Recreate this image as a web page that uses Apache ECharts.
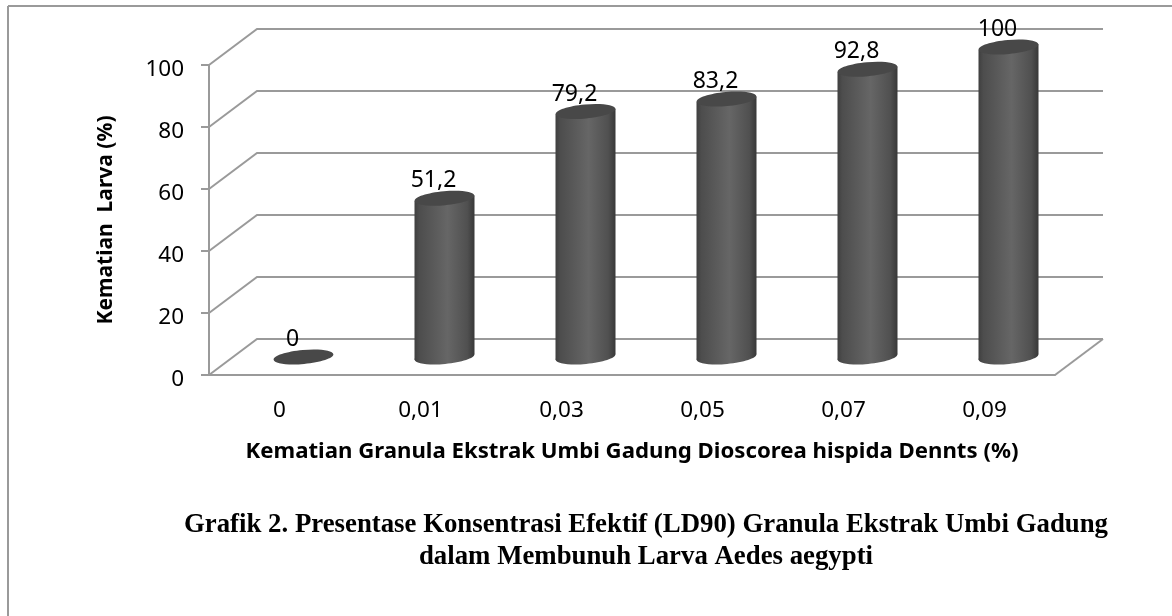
<!DOCTYPE html>
<html>
<head>
<meta charset="utf-8">
<script src="https://cdn.jsdelivr.net/npm/echarts@6/dist/echarts.min.js"></script>
<style>
html, body { margin: 0; padding: 0; background: #fff; }
#main { width: 1172px; height: 616px; }
</style>
</head>
<body>
<div id="main"></div>
<script>
var categories = ['0', '0,01', '0,03', '0,05', '0,07', '0,09'];
var kematian = [0, 51.2, 79.2, 83.2, 92.8, 100];
var yTicks = [0, 20, 40, 60, 80, 100];

var xName = 'Kematian Granula Ekstrak Umbi Gadung Dioscorea hispida Dennts (%)';
var yName = 'Kematian  Larva (%)';
var caption = 'Grafik 2. Presentase Konsentrasi Efektif (LD90) Granula Ekstrak Umbi Gadung\ndalam Membunuh Larva Aedes aegypti';

// kedalaman "3D" dinding belakang
var depthX = 48, depthY = 36;
var lineColor = '#9a9a9a';
var labelFont = '"Noto Sans"';

function renderWall(params, api) {
	var cs = params.coordSys;
	var y = api.coord([0, api.value(1)])[1];
	var x0 = cs.x, x1 = cs.x + cs.width;
	var lines = [{
		type: 'polyline',
		shape: { points: [[x0, y], [x0 + depthX, y - depthY], [x1 + depthX, y - depthY]] },
		style: { fill: null, stroke: lineColor, lineWidth: 2 }
	}];
	if (api.value(1) === 0) {
		lines.push({
			type: 'line',
			shape: { x1: x1, y1: y, x2: x1 + depthX, y2: y - depthY },
			style: { stroke: lineColor, lineWidth: 2 }
		});
	}
	return { type: 'group', children: lines };
}

function renderCylinder(params, api) {
	var val = api.value(1);
	var top = api.coord([api.value(0), val]);
	var base = api.coord([api.value(0), 0]);
	var cx = top[0] + depthX / 2, topY = top[1] - depthY / 2, baseY = base[1] - depthY / 2;
	var rx = 30, ry = 7, rot = 0.09;
	var dy = rx * Math.sin(rot);
	var shade = new echarts.graphic.LinearGradient(0, 0, 1, 0, [
		{ offset: 0, color: '#3f3f3f' },
		{ offset: 0.08, color: '#4d4d4d' },
		{ offset: 0.55, color: '#666666' },
		{ offset: 0.88, color: '#505050' },
		{ offset: 1, color: '#383838' }
	]);
	var children = [];
	if (val > 0) {
		children.push({
			type: 'ellipse', x: cx, y: baseY, rotation: rot,
			shape: { cx: 0, cy: 0, rx: rx, ry: ry },
			style: { fill: shade }
		});
		children.push({
			type: 'polygon',
			shape: { points: [[cx - rx, baseY + dy], [cx - rx, topY + dy], [cx + rx, topY - dy], [cx + rx, baseY - dy]] },
			style: { fill: shade }
		});
	}
	children.push({
		type: 'ellipse', x: cx, y: topY, rotation: rot,
		shape: { cx: 0, cy: 0, rx: rx, ry: ry },
		style: { fill: '#484848' }
	});
	children.push({
		type: 'text', x: cx - 11, y: topY - 17.5,
		style: {
			text: String(val).replace('.', ','),
			font: '23px ' + labelFont, fill: '#000',
			align: 'center', verticalAlign: 'middle'
		}
	});
	return { type: 'group', children: children };
}

var chart = echarts.init(document.getElementById('main'));
chart.setOption({
	animation: false,
	backgroundColor: '#fff',
	title: {
		text: caption,
		left: 641, top: 504, textAlign: 'center',
		textStyle: { fontFamily: '"Liberation Serif"', fontWeight: 'bold', fontSize: 26.8, lineHeight: 32, color: '#000' }
	},
	grid: { left: 209, top: 65, width: 846, height: 310 },
	xAxis: {
		type: 'category',
		data: categories,
		name: xName, nameLocation: 'middle', nameGap: 66,
		nameTextStyle: { fontFamily: labelFont, fontWeight: 'bold', fontSize: 22.2, color: '#000' },
		axisLine: { lineStyle: { color: lineColor, width: 2 } },
		axisTick: { show: false },
		axisLabel: { fontFamily: labelFont, fontSize: 22.5, color: '#000', margin: 24 },
		splitLine: { show: false }
	},
	yAxis: {
		type: 'value', min: 0, max: 100, interval: 20,
		name: yName, nameLocation: 'middle', nameGap: 92,
		nameTextStyle: { fontFamily: labelFont, fontWeight: 'bold', fontSize: 21, color: '#000' },
		axisLine: { show: true, lineStyle: { color: lineColor, width: 2 } },
		axisTick: { show: true, length: 8, lineStyle: { color: lineColor, width: 2 } },
		axisLabel: { fontFamily: labelFont, fontSize: 22.5, color: '#000', margin: 25, verticalAlign: 'top', lineHeight: 10 },
		splitLine: { show: false }
	},
	graphic: [
		{ type: 'line', shape: { x1: 8, y1: 6, x2: 1172, y2: 6 }, style: { stroke: lineColor, lineWidth: 2 } },
		{ type: 'line', shape: { x1: 8, y1: 6, x2: 8, y2: 616 }, style: { stroke: lineColor, lineWidth: 2 } }
	],
	series: [
		{
			type: 'custom', z: 1, silent: true, clip: false,
			encode: { x: 0, y: 1 },
			data: yTicks.map(function(v) { return [0, v]; }),
			renderItem: renderWall
		},
		{
			type: 'custom', z: 3, silent: true, clip: false,
			encode: { x: 0, y: 1 },
			data: kematian.map(function(v, i) { return [i, v]; }),
			renderItem: renderCylinder
		}
	]
});
</script>
</body>
</html>
